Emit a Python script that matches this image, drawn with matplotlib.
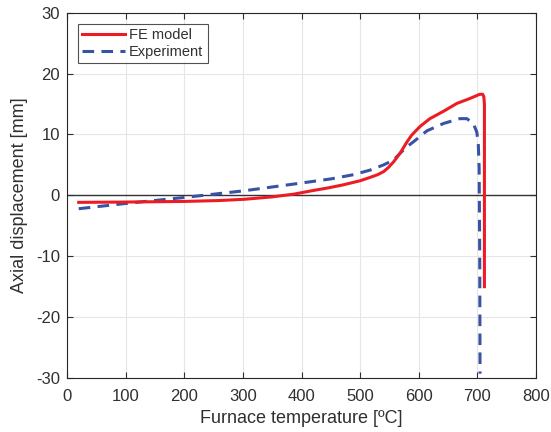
import matplotlib
matplotlib.use("Agg")
import matplotlib.pyplot as plt

fe_temp = [20, 100, 200, 260, 302, 350, 387, 420, 444, 470, 500, 517, 530, 540, 548, 557,
           568, 580, 588, 602, 619, 642, 665, 687, 704, 709, 711, 712, 712]
fe_disp = [-1.15, -1.1, -1.0, -0.85, -0.65, -0.25, 0.2, 0.8, 1.2, 1.7, 2.4, 2.95, 3.4,
           3.9, 4.55, 5.5, 6.9, 8.8, 9.9, 11.3, 12.6, 13.8, 15.1, 15.9, 16.6, 16.6, 16.2,
           15.0, -15.0]

exp_temp = [20, 103, 200, 302, 398, 450, 489, 517, 540, 557, 568, 580, 591, 614, 642,
            670, 682, 693, 699, 701.6, 703, 704, 704.5]
exp_disp = [-2.2, -1.3, -0.35, 0.75, 2.0, 2.7, 3.4, 4.15, 5.0, 5.8, 6.9, 8.0, 8.8, 10.6,
            11.8, 12.6, 12.6, 11.8, 10.4, 8.3, 4.4, -10.0, -29.3]

x_ticks = [0, 100, 200, 300, 400, 500, 600, 700, 800]
y_ticks = [-30, -20, -10, 0, 10, 20, 30]

plt.rcParams['font.family'] = ['Liberation Sans', 'DejaVu Sans']
plt.rcParams['axes.unicode_minus'] = False
tc = '#303030'

fig = plt.figure(figsize=(5.51, 4.32), dpi=100)
ax = fig.add_axes([0.1216, 0.125, 0.8512, 0.8456])

ax.grid(True, color='#e6e6e6', linewidth=0.8, zorder=0)
ax.axhline(0, color='#333333', linewidth=1.0, zorder=1)
ax.plot(fe_temp, fe_disp, color='#ED1C24', linewidth=2.2, label='FE model',
        solid_joinstyle='round', zorder=3)
ax.plot(exp_temp, exp_disp, color='#3953A4', linewidth=2.2, linestyle=(0, (3.8, 2.4)),
        label='Experiment', zorder=2)

ax.set_xlim(0, 800)
ax.set_ylim(-30, 30)
ax.set_xticks(x_ticks)
ax.set_yticks(y_ticks)
ax.tick_params(direction='in', top=True, right=True, length=4, width=0.8,
               colors=tc, labelsize=12)
ax.tick_params(axis='x', pad=8)
ax.tick_params(axis='y', pad=5)
for s in ax.spines.values():
    s.set_color('#262626')
    s.set_linewidth(0.8)
ax.set_axisbelow(True)

ax.set_xlabel('Furnace temperature [ºC]', fontsize=13, color=tc, labelpad=4)
ax.set_ylabel('Axial displacement [mm]', fontsize=13, color=tc, labelpad=6)

leg = ax.legend(loc='upper left', fontsize=10.5, frameon=True, fancybox=False,
                edgecolor='#262626', handlelength=2.9, handletextpad=0.3,
                borderpad=0.3, labelspacing=0.2, borderaxespad=0.75)
leg.get_frame().set_linewidth(0.8)
for t in leg.get_texts():
    t.set_color(tc)

fig.savefig('out.png', dpi=100)
